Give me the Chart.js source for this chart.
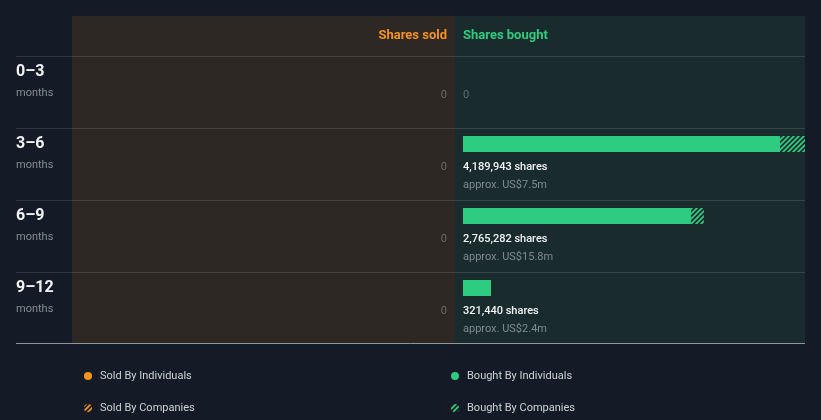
<!DOCTYPE html>
<html><head><meta charset="utf-8">
<script src="https://cdn.jsdelivr.net/npm/chart.js@4"></script>
<style>html,body{margin:0;padding:0;background:#151b26;overflow:hidden}#wrap{width:821px;height:420px}</style>
</head><body><div id="wrap"><canvas id="c" width="821" height="420"></canvas></div>
<script>
// ---- data ----
const periods = ['0–3', '3–6', '6–9', '9–12'];
const periodUnit = 'months';
const soldIndividuals = [0, 0, 0, 0];
const soldCompanies = [0, 0, 0, 0];
const boughtIndividuals = [0, 3639000, 2617000, 321440];
const boughtCompanies = [0, 550943, 148282, 0];
const boughtTotals = [0, 4189943, 2765282, 321440];
const boughtValues = ['', 'approx. US$7.5m', 'approx. US$15.8m', 'approx. US$2.4m'];
const soldTotals = [0, 0, 0, 0];
const headerLabels = ['Shares sold', 'Shares bought'];
const legendLabels = ['Sold By Individuals', 'Bought By Individuals', 'Sold By Companies', 'Bought By Companies'];
const axisMax = 3926000;

// ---- styles ----
const BG = '#151b26', SOLD_BG = '#2d2823', BOUGHT_BG = '#1a2b2d';
const GREEN = '#2ecc80', ORANGE = '#f7921e';
const BAR_T = 16;

function hatch(color) {
  const s = 5, c = document.createElement('canvas');
  c.width = s; c.height = s;
  const g = c.getContext('2d');
  g.strokeStyle = color; g.lineWidth = 1.8;
  g.beginPath();
  g.moveTo(-1, s + 1); g.lineTo(s + 1, -1);
  g.moveTo(-1, 1); g.lineTo(1, -1);
  g.moveTo(s - 1, s + 1); g.lineTo(s + 1, s - 1);
  g.stroke();
  return g.createPattern(c, 'repeat');
}
const greenHatch = hatch(GREEN);
const orangeHatch = hatch(ORANGE);

const fmt = n => n.toLocaleString('en-US');
const nz = v => (v === 0 ? null : v);

const decor = {
  id: 'decor',
  beforeDraw(chart) {
    const c = chart.ctx, xs = chart.scales.x, ys = chart.scales.y;
    c.save();
    c.fillStyle = BG; c.fillRect(0, 0, chart.width, chart.height);
    const rowTop = i => ys.getPixelForValue(i) - BAR_T;
    const band = ys.getPixelForValue(1) - ys.getPixelForValue(0);
    const top = rowTop(0) - 40, bottom = rowTop(periods.length - 1) + band;
    const mid = xs.left - 8;
    c.fillStyle = SOLD_BG; c.fillRect(72, top, mid - 72, bottom - top);
    c.fillStyle = BOUGHT_BG; c.fillRect(mid, top, xs.right - mid, bottom - top);
    c.strokeStyle = 'rgba(255,255,255,0.12)'; c.lineWidth = 1;
    for (let i = 0; i < periods.length; i++) {
      const y = Math.round(rowTop(i)) + 0.5;
      c.beginPath(); c.moveTo(16, y); c.lineTo(xs.right, y); c.stroke();
    }
    c.strokeStyle = '#8e969a';
    c.beginPath(); c.moveTo(16, bottom - 0.5); c.lineTo(xs.right, bottom - 0.5); c.stroke();
    c.restore();
  },
  afterDraw(chart) {
    const c = chart.ctx, xs = chart.scales.x, ys = chart.scales.y;
    const rowTop = i => ys.getPixelForValue(i) - BAR_T;
    const band = ys.getPixelForValue(1) - ys.getPixelForValue(0);
    const top = rowTop(0) - 40, bottom = rowTop(periods.length - 1) + band;
    c.save();
    c.textBaseline = 'middle';
    // headers
    c.font = 'bold 13px Roboto';
    c.textAlign = 'right'; c.fillStyle = ORANGE; c.fillText(headerLabels[0], xs.left - 16, top + 19.5);
    c.textAlign = 'left'; c.fillStyle = GREEN; c.fillText(headerLabels[1], xs.left, top + 19.5);
    for (let i = 0; i < periods.length; i++) {
      const t = rowTop(i);
      c.textAlign = 'left';
      c.font = 'bold 16px Roboto'; c.fillStyle = '#f2f3f5';
      c.fillText(periods[i], 16, t + 15.5);
      c.font = '11px Roboto'; c.fillStyle = '#878c94';
      c.fillText(periodUnit, 16, t + 37);
      // sold
      c.textAlign = 'right'; c.fillStyle = '#6b6864'; c.font = '11px Roboto';
      c.fillText(fmt(soldTotals[i]), xs.left - 16, t + 39);
      // bought
      c.textAlign = 'left';
      if (boughtTotals[i] === 0) {
        c.fillStyle = '#5d6e6e'; c.font = '11px Roboto';
        c.fillText('0', xs.left, t + 39);
      } else {
        c.fillStyle = '#f2f4f4'; c.font = '500 11px Roboto';
        c.fillText(fmt(boughtTotals[i]) + ' shares', xs.left, t + 39);
        c.fillStyle = '#7f8b8c'; c.font = '11px Roboto';
        c.fillText(boughtValues[i], xs.left, t + 57);
      }
    }
    // legend
    const lx = [88, 455], ly = [bottom + 32, bottom + 64];
    const cols = [ORANGE, GREEN];
    c.font = '11px Roboto'; c.textAlign = 'left';
    for (let k = 0; k < 4; k++) {
      const col = k % 2, row = Math.floor(k / 2);
      const x = lx[col], y = ly[row];
      if (row === 0) {
        c.fillStyle = cols[col];
        c.beginPath(); c.arc(x, y, 4, 0, Math.PI * 2); c.fill();
      } else {
        c.save();
        c.beginPath(); c.arc(x, y, 4, 0, Math.PI * 2); c.clip();
        c.fillStyle = col === 0 ? orangeHatch : greenHatch;
        c.fillRect(x - 5, y - 5, 10, 10);
        c.restore();
      }
      c.fillStyle = '#cfd2d6';
      c.fillText(legendLabels[k], x + 12, y + 0.5);
    }
    c.restore();
  }
};

new Chart(document.getElementById('c'), {
  type: 'bar',
  data: {
    labels: periods,
    datasets: [
      { label: 'Bought By Individuals', data: boughtIndividuals.map(nz), backgroundColor: GREEN, borderWidth: 0, inflateAmount: 0, barThickness: BAR_T },
      { label: 'Bought By Companies', data: boughtCompanies.map(nz), backgroundColor: greenHatch, borderWidth: 0, inflateAmount: 0, barThickness: BAR_T }
    ]
  },
  options: {
    indexAxis: 'y',
    responsive: false,
    animation: false,
    devicePixelRatio: 1,
    layout: { padding: { left: 463, right: 16, top: 36, bottom: 96 } },
    scales: {
      x: { display: false, stacked: true, min: 0, max: axisMax },
      y: { display: false, stacked: true, offset: true, grid: { display: false } }
    },
    plugins: { legend: { display: false }, tooltip: { enabled: false } }
  },
  plugins: [decor]
});
</script>
</body></html>
